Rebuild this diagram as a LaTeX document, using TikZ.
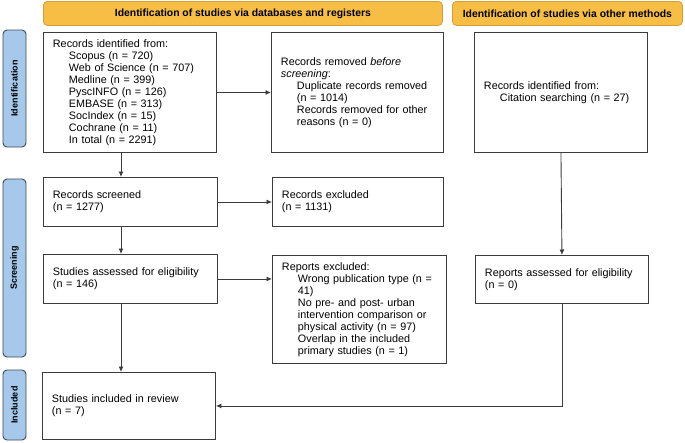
\documentclass[tikz,border=0pt]{standalone}
\usepackage{fontspec}
\setmainfont{Liberation Sans}
\usepackage{tikz}
\usetikzlibrary{positioning,arrows.meta}
\definecolor{hdrorange}{RGB}{246,190,68}
\definecolor{hdrline}{RGB}{214,158,52}
\definecolor{sideblue}{RGB}{166,200,234}
\definecolor{sideline}{RGB}{62,74,90}
\definecolor{boxline}{RGB}{60,60,60}
\tikzstyle{box}=[draw=boxline,line width=0.9pt,align=left,inner xsep=9.5pt,inner ysep=2pt,anchor=north west,font=\fontsize{10.8}{12}\selectfont]
\tikzstyle{header}=[draw=hdrline,fill=hdrorange,rounded corners=4pt,line width=0.8pt,anchor=north west,align=center,font=\bfseries\fontsize{10.4}{12}\selectfont]
\tikzstyle{phase}=[draw=sideline,fill=sideblue,rounded corners=4pt,line width=0.9pt,rotate=90,minimum height=23,font=\bfseries\fontsize{9}{11}\selectfont]
\tikzstyle{arr}=[-{Latex[length=5.5pt,width=5pt]},draw=boxline,line width=0.9pt]
\newcommand{\ind}{\hspace*{16pt}}

\begin{document}
\begin{tikzpicture}[x=1pt,y=-1pt]
    \useasboundingbox (0,0) rectangle (685,442);

    \node[header, minimum width=399, minimum height=24] (hdrdb) at (43,1) {Identification of studies via databases and registers};
    \node[header, minimum width=230, minimum height=24] (hdrother) at (452,1) {Identification of studies via other methods};

    \node[phase, minimum width=117] (phident) at (14.5,88.5) {Identification};
    \node[phase, minimum width=178] (phscreen) at (14.5,268) {Screening};
    \node[phase, minimum width=70] (phincl) at (14.5,405) {Included};

    \node[box, text width=154, minimum height=120] (ident) at (43,32) {Records identified from:\\ \ind Scopus (n = 720)\\ \ind Web of Science (n = 707)\\ \ind Medline (n = 399)\\ \ind PyscINFO (n = 126)\\ \ind EMBASE (n = 313)\\ \ind SocIndex (n = 15)\\ \ind Cochrane (n = 11)\\ \ind In total (n = 2291)};

    \node[box, text width=153, minimum height=120] (removed) at (271,32) {Records removed \textit{before}\\ \textit{screening}:\\ \ind Duplicate records removed\\ \ind (n = 1014)\\ \ind Records removed for other\\ \ind reasons (n = 0)};

    \node[box, text width=154, minimum height=120] (cite) at (474,32) {Records identified from:\\ \ind Citation searching (n = 27)};

    \node[box, text width=155, minimum height=49] (screened) at (43,177) {Records screened\\(n = 1277)};

    \node[box, text width=152, minimum height=49] (excluded) at (272,177) {Records excluded\\(n = 1131)};

    \node[box, text width=155, minimum height=49] (studies) at (43,254) {Studies assessed for eligibility\\(n = 146)};

    \node[box, text width=155, minimum height=108] (repex) at (272,255) {Reports excluded:\\ \ind Wrong publication type (n =\\ \ind 41)\\ \ind No pre- and post- urban\\ \ind intervention comparison or\\ \ind physical activity (n = 97)\\ \ind Overlap in the included\\ \ind primary studies (n = 1)};

    \node[box, text width=154, minimum height=48] (repass) at (475,255) {Reports assessed for eligibility\\(n = 0)};

    \node[box, text width=154, minimum height=67] (included) at (42,372) {Studies included in review\\(n = 7)};

    \coordinate (colA) at (121,0);

    \draw[arr] (ident.south -| colA) -- (screened.north -| colA);
    \draw[arr] (screened.south -| colA) -- (studies.north -| colA);
    \draw[arr] (studies.south -| colA) -- (included.north -| colA);
    \draw[arr] (ident.east) -- (removed.west);
    \draw[arr] (screened.east) -- (excluded.west);
    \draw[arr] (studies.east) -- (studies.east -| repex.west);
    \draw[arr] (cite.south) -- (repass.north);
    \draw[arr] (repass.south) |- (included.east);
\end{tikzpicture}
\end{document}
